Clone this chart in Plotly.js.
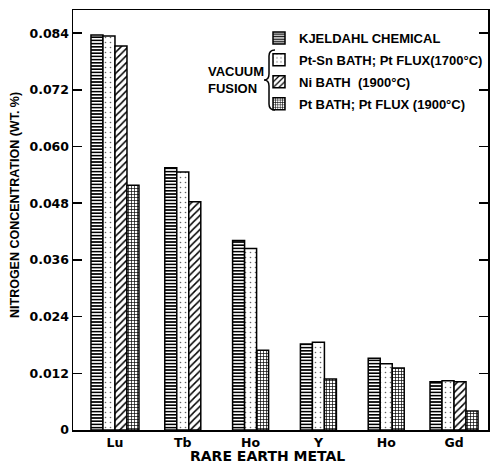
<!DOCTYPE html>
<html>
<head>
<meta charset="utf-8">
<script src="https://cdn.plot.ly/plotly-3.0.1.min.js"></script>
<style>html,body{margin:0;padding:0;background:#fff;}#chart{width:491px;height:463px;}</style>
</head>
<body>
<div id="chart"></div>
<script>
// ---- data ----
var metals = ["Lu", "Tb", "Ho", "Y", "Ho", "Gd"];
var seriesNames = ["KJELDAHL CHEMICAL", "Pt-Sn BATH; Pt FLUX(1700°C)", "Ni BATH  (1900°C)", "Pt BATH; Pt FLUX (1900°C)"];
var kjeldahl = [0.0836, 0.0555, 0.0401, 0.0182, 0.0152, 0.0102];
var ptSnBath = [0.0834, 0.0546, 0.0384, 0.0186, 0.0140, 0.0104];
var niBath   = [0.0813, 0.0483, null,   null,   null,   0.0102];
var ptBath   = [0.0518, null,   0.0169, 0.0108, 0.0131, 0.0040];
var yTickVals = [0, 0.012, 0.024, 0.036, 0.048, 0.060, 0.072, 0.084];
var yTickText = ["0", "0.012", "0.024", "0.036", "0.048", "0.060", "0.072", "0.084"];

var allSeries = [kjeldahl, ptSnBath, niBath, ptBath];
var patterns = [
  {shape: "-", fgcolor: "#000", bgcolor: "#fff", size: 3.2, solidity: 0.5},
  {shape: ".", fgcolor: "#666", bgcolor: "#fff", size: 5, solidity: 0.08},
  {shape: "/", fgcolor: "#000", bgcolor: "#fff", size: 5, solidity: 0.3},
  {shape: "+", fgcolor: "#000", bgcolor: "#fff", size: 3, solidity: 0.4}
];

var xIdx = metals.map(function (_, i) { return i; });
var barW = 0.177;
// bars present in each group sit side by side, centred on the category
var counts = xIdx.map(function (i) {
  return allSeries.filter(function (s) { return s[i] !== null; }).length;
});
function offsetsFor(si) {
  return xIdx.map(function (i) {
    var slot = 0;
    for (var k = 0; k < si; k++) if (allSeries[k][i] !== null) slot++;
    return (slot - counts[i] / 2) * barW;
  });
}

var traces = allSeries.map(function (s, si) {
  return {
    type: "bar", x: xIdx, y: s, name: seriesNames[si],
    width: barW, offset: offsetsFor(si), legendgroup: "g" + si,
    marker: {color: "#fff", pattern: patterns[si], line: {color: "#000", width: 1.5}},
    hoverinfo: "x+y"
  };
});

// pixel helpers for decorations (plot: x 73..488, y 10..430)
var L = 73, R = 488, T = 10, B = 430;
function px(x) { return (x - L) / (R - L); }
function py(y) { return (B - y) / (B - T); }
var bracePts = [[275,50],[269,50],[269,56],[269,74],[269,80],[264,80],[269,80],[269,86],[269,104],[269,110],[275,110]];
function P(p) { return px(p[0]).toFixed(4) + "," + py(p[1]).toFixed(4); }
var bracePath = "M" + P(bracePts[0]) + " Q" + P(bracePts[1]) + " " + P(bracePts[2]) +
  " L" + P(bracePts[3]) + " Q" + P(bracePts[4]) + " " + P(bracePts[5]) +
  " Q" + P(bracePts[6]) + " " + P(bracePts[7]) + " L" + P(bracePts[8]) +
  " Q" + P(bracePts[9]) + " " + P(bracePts[10]);

var font = {family: "DejaVu Sans", size: 12.5, color: "#000", weight: "bold"};
var labelFont = {family: "Liberation Sans", size: 13, color: "#000", weight: "bold"};

var layout = {
  width: 491, height: 463,
  margin: {l: L, r: 491 - R, t: T, b: 463 - B, pad: 0, autoexpand: false},
  paper_bgcolor: "#fff", plot_bgcolor: "#fff",
  barmode: "overlay",
  font: font,
  showlegend: true,
  legend: {x: px(259), y: py(23), xanchor: "left", yanchor: "top",
           bgcolor: "rgba(0,0,0,0)", font: labelFont, tracegroupgap: 2, itemwidth: 30},
  xaxis: {
    range: [-0.619, 5.501], tickmode: "array", tickvals: xIdx, ticktext: metals,
    showline: true, linecolor: "#000", linewidth: 1.5, mirror: true,
    ticks: "", showgrid: false, zeroline: false, fixedrange: true,
    tickfont: font
  },
  yaxis: {
    range: [0, 0.0889], tickmode: "array", tickvals: yTickVals, ticktext: yTickText,
    showline: true, linecolor: "#000", linewidth: 1.5, mirror: "ticks",
    ticks: "inside", ticklen: 9, tickwidth: 1.5, tickcolor: "#000",
    showgrid: false, zeroline: false, fixedrange: true, tickfont: font
  },
  shapes: [{type: "path", xref: "paper", yref: "paper", path: bracePath,
            line: {color: "#000", width: 1.5}}],
  annotations: [
    {xref: "paper", yref: "paper", x: px(206), y: py(80), xanchor: "left", yanchor: "middle",
     text: "VACUUM<br>FUSION", align: "left", showarrow: false, font: labelFont},
    {xref: "paper", yref: "paper", x: px(267), y: py(456), xanchor: "center", yanchor: "middle",
     text: "RARE EARTH METAL", showarrow: false,
     font: {family: "DejaVu Sans", size: 14, color: "#000", weight: "bold"}},
    {xref: "paper", yref: "paper", x: px(15), y: py(205), xanchor: "center", yanchor: "middle",
     text: "NITROGEN CONCENTRATION (WT. %)", textangle: -90, showarrow: false,
     font: {family: "Liberation Sans", size: 12.5, color: "#000", weight: "bold"}}
  ]
};

Plotly.newPlot("chart", traces, layout, {displayModeBar: false, staticPlot: true});
</script>
</body>
</html>
